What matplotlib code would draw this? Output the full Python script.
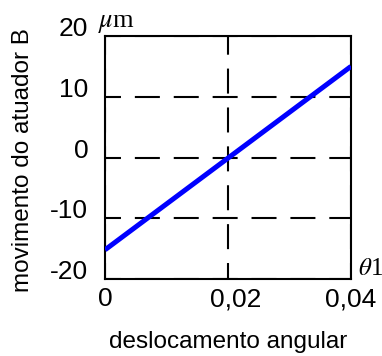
import matplotlib
matplotlib.use('Agg')
import matplotlib.pyplot as plt
import matplotlib.transforms as mtransforms

plt.rcParams['lines.scale_dashes'] = False
plt.rcParams['mathtext.fontset'] = 'stix'

# dados
theta = [0.0, 0.04]
movimento = [-15.2, 15.0]
xticks = [0.0, 0.02, 0.04]
xtick_labels = ['0', '0,02', '0,04']
yticks = [-20, -10, 0, 10, 20]
ytick_labels = ['-20', '-10', '0', '10', '20']

tick_font = ['Liberation Sans', 'DejaVu Sans']
label_font = ['Liberation Sans', 'DejaVu Sans']
serif_font = ['Liberation Serif', 'DejaVu Serif']

fig = plt.figure(figsize=(3.82, 3.56), dpi=100)
ax = fig.add_axes([105/382, 1-279/356, 246/382, 243/356])

ax.plot(theta, movimento, color='#0000ff', lw=3.6, solid_capstyle='butt', zorder=3)

ax.set_xlim(0, 0.04)
ax.set_ylim(-20, 20)
ax.set_xticks(xticks)
ax.set_xticklabels(xtick_labels, family=tick_font, fontsize=19)
ax.set_yticks(yticks)
ax.set_yticklabels(ytick_labels, family=tick_font, fontsize=19)
ax.tick_params(length=0)
ax.tick_params(axis='y', pad=12)
ax.tick_params(axis='x', pad=6)
for lab in ax.get_yticklabels():
    lab.set_va('baseline')

# "0,02" aparece um pouco deslocado para a direita
lab = ax.get_xticklabels()[1]
lab.set_transform(lab.get_transform() + mtransforms.ScaledTranslation(8/100, 0, fig.dpi_scale_trans))

ax.grid(True, color='black', lw=1.5, linestyle=(6.5, (18, 10)))

for s in ax.spines.values():
    s.set_linewidth(1.5)
    s.set_color('black')

ax.set_xlabel('deslocamento angular', family=label_font, fontsize=17.5)
ax.xaxis.set_label_coords(0.5, -0.215)
ax.set_ylabel('movimento do atuador B', family=label_font, fontsize=17.5)
ax.yaxis.set_label_coords(-0.29, 0.49)

ax.text(-0.03, 1.037, r'$\mu$m', transform=ax.transAxes, family=serif_font,
        fontsize=19, ha='left', va='baseline')
ax.text(1.028, 0.016, r'$\theta$1', transform=ax.transAxes, family=serif_font,
        fontsize=18, ha='left', va='baseline')

fig.savefig('out.png', dpi=100)
